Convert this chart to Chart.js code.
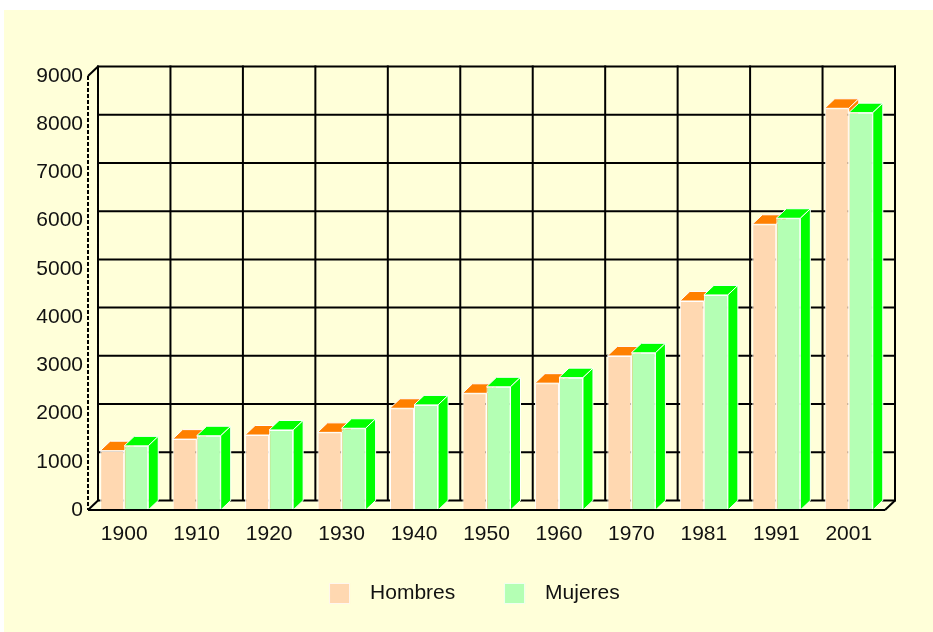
<!DOCTYPE html>
<html><head><meta charset="utf-8">
<script src="https://cdn.jsdelivr.net/npm/chart.js@4.4.1/dist/chart.umd.min.js"></script>
<style>html,body{margin:0;padding:0;background:#fff;overflow:hidden}canvas{display:block}</style>
</head><body>
<canvas id="c" width="933" height="632"></canvas>
<script>
const years = ['1900','1910','1920','1930','1940','1950','1960','1970','1981','1991','2001'];
const hombres = [1230,1470,1555,1610,2110,2420,2630,3195,4335,5925,8330];
const mujeres = [1330,1540,1660,1695,2180,2555,2745,3260,4460,6050,8240];
const seriesNames = ['Hombres','Mujeres'];
const frontColors = ['#FFD8B1','#B4FFB4'];
const darkColors = ['#FF8000','#00FF00'];
const yMin = 0, yMax = 9000, yStep = 1000;
const DX = 10, DY = 9.5;
const FONT = '"Liberation Sans", Arial, sans-serif';
const FS = 21;
const LEG_BOX = 42.3;

function seg(ctx, x1, y1, x2, y2){ ctx.beginPath(); ctx.moveTo(x1,y1); ctx.lineTo(x2,y2); ctx.stroke(); }

function drawFaces(ctx, el, color){
  const p = el.getProps(['x','y','base','width'], true);
  const l = p.x - p.width / 2, r = p.x + p.width / 2, t = p.y, b = p.base;
  ctx.fillStyle = color;
  ctx.strokeStyle = '#FFFFFF';
  ctx.lineWidth = 1;
  ctx.beginPath();
  ctx.moveTo(l, t); ctx.lineTo(l + DX, t - DY); ctx.lineTo(r + DX, t - DY); ctx.lineTo(r, t); ctx.closePath();
  ctx.fill(); ctx.stroke();
  ctx.beginPath();
  ctx.moveTo(r, t); ctx.lineTo(r + DX, t - DY); ctx.lineTo(r + DX, b - DY); ctx.lineTo(r, b); ctx.closePath();
  ctx.fill(); ctx.stroke();
}

const depthPlugin = {
  id: 'depth',
  beforeDraw(chart){
    const ctx = chart.ctx;
    ctx.save();
    ctx.fillStyle = '#FFFFD9';
    ctx.fillRect(4, 10, chart.width - 4, chart.height - 10);
    ctx.restore();
  },
  beforeDatasetsDraw(chart){
    const {ctx, chartArea: a, scales: {x, y}} = chart;
    ctx.save();
    ctx.strokeStyle = '#000';
    ctx.lineWidth = 2;
    const top = y.getPixelForValue(yMax), bot = y.getPixelForValue(yMin);
    for (let v = yMin; v <= yMax; v += yStep) {
      const py = y.getPixelForValue(v) - DY;
      seg(ctx, a.left + DX - 1, py, a.right + DX + 1, py);
    }
    const n = years.length;
    const cw = n > 1 ? x.getPixelForValue(1) - x.getPixelForValue(0) : (a.right - a.left);
    for (let i = 0; i <= n; i++) {
      const px = (i < n ? x.getPixelForValue(i) - cw / 2 : x.getPixelForValue(n - 1) + cw / 2) + DX;
      seg(ctx, px, top - DY - 1, px, bot - DY);
    }
    seg(ctx, a.left, top, a.left + DX, top - DY);
    seg(ctx, a.left, bot, a.left + DX, bot - DY);
    ctx.setLineDash([4, 2]);
    seg(ctx, a.left, top, a.left, bot);
    ctx.setLineDash([]);
    ctx.restore();
  },
  afterDatasetsDraw(chart){
    const {ctx, chartArea: a, scales: {y}} = chart;
    const m0 = chart.getDatasetMeta(0), m1 = chart.getDatasetMeta(1);
    ctx.save();
    for (let j = 0; j < years.length; j++) {
      drawFaces(ctx, m0.data[j], darkColors[0]);
      m1.data[j].draw(ctx);
      drawFaces(ctx, m1.data[j], darkColors[1]);
    }
    const bot = y.getPixelForValue(yMin);
    ctx.strokeStyle = '#000';
    ctx.lineWidth = 2;
    seg(ctx, a.left, bot, a.right, bot);
    seg(ctx, a.right, bot, a.right + DX, bot - DY);
    ctx.restore();
  },
  afterDraw(chart){
    const lg = chart.legend;
    if (!lg || !lg.legendHitBoxes) return;
    const ctx = chart.ctx;
    ctx.save();
    lg.legendHitBoxes.forEach((hb, i) => {
      const bx = hb.left + LEG_BOX + FS / 2 - 41;
      ctx.fillStyle = frontColors[i];
      ctx.fillRect(bx, hb.top, 21, 21);
      ctx.strokeStyle = 'rgba(255,255,255,0.8)';
      ctx.lineWidth = 1;
      ctx.strokeRect(bx + 0.5, hb.top + 0.5, 20, 20);
    });
    ctx.restore();
  }
};

new Chart(document.getElementById('c'), {
  type: 'bar',
  data: {
    labels: years,
    datasets: [
      { label: seriesNames[0], data: hombres, backgroundColor: frontColors[0], borderColor: '#FFFFFF', borderWidth: 1 },
      { label: seriesNames[1], data: mujeres, backgroundColor: frontColors[1], borderColor: '#FFFFFF', borderWidth: 1 }
    ]
  },
  options: {
    responsive: false,
    animation: false,
    layout: { padding: { left: 4, right: 0, top: 76, bottom: 18 } },
    datasets: { bar: { categoryPercentage: 0.663, barPercentage: 1.0 } },
    scales: {
      x: {
        grid: { display: false, drawTicks: false },
        border: { display: false },
        ticks: { color: '#111', font: { family: FONT, size: FS }, padding: 12, maxRotation: 0, autoSkip: false },
        afterFit(s){ s.height = 36; }
      },
      y: {
        position: 'left',
        min: yMin, max: yMax,
        grid: { display: false, drawTicks: false },
        border: { display: false },
        ticks: { stepSize: yStep, color: '#111', font: { family: FONT, size: FS }, padding: 5, callback: v => String(v) },
        afterFit(s){ s.width = 84; }
      },
      yR: {
        type: 'linear',
        position: 'right',
        display: true,
        grid: { display: false, drawTicks: false },
        border: { display: false },
        ticks: { display: false },
        afterFit(s){ s.width = 48; }
      }
    },
    plugins: {
      tooltip: { enabled: false },
      legend: {
        position: 'bottom',
        labels: {
          boxWidth: LEG_BOX, boxHeight: 21, padding: 37, color: '#111',
          font: { family: FONT, size: FS },
          generateLabels(chart){
            return Chart.defaults.plugins.legend.labels.generateLabels(chart).map(it => Object.assign(it, { fillStyle: 'rgba(0,0,0,0)', strokeStyle: 'rgba(0,0,0,0)', lineWidth: 0 }));
          }
        }
      }
    }
  },
  plugins: [depthPlugin]
});
</script>
</body></html>
